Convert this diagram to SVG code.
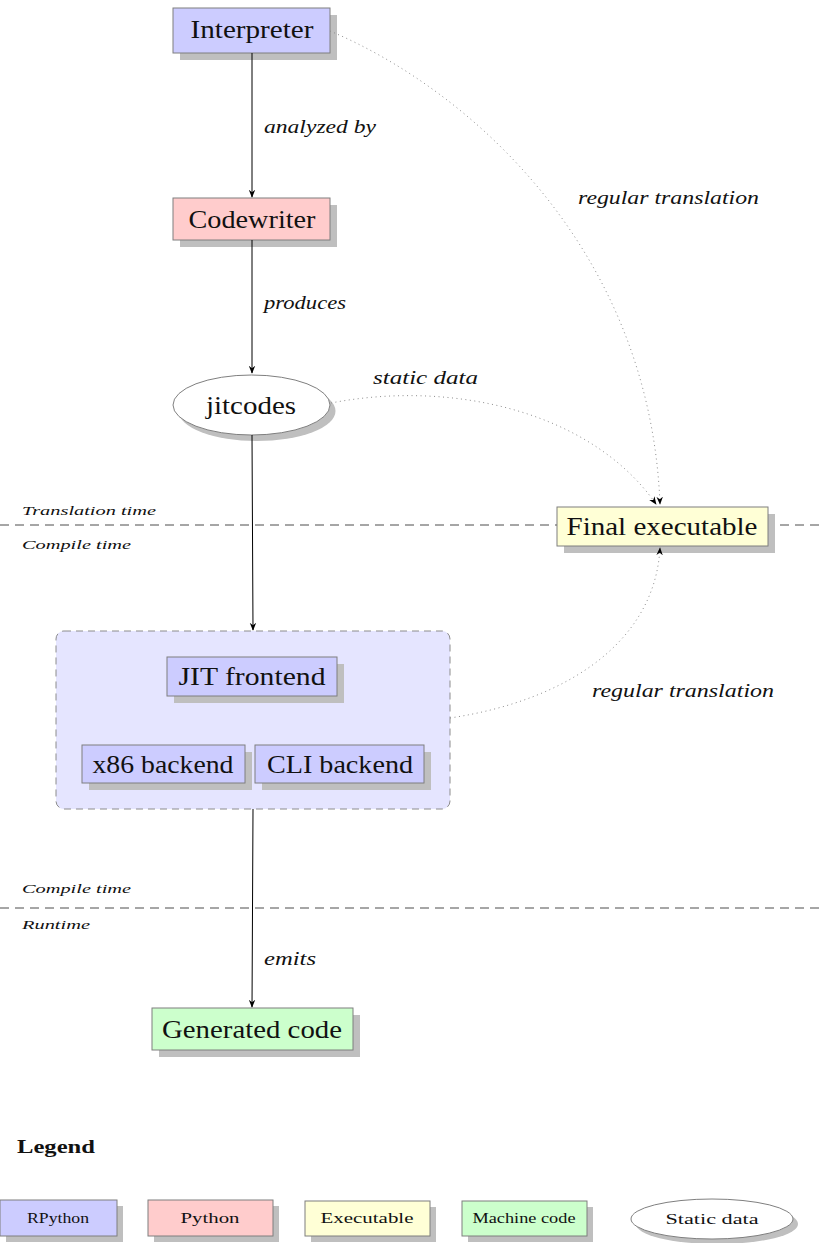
<svg xmlns="http://www.w3.org/2000/svg" width="821" height="1243" viewBox="0 0 821 1243">
  <style>
    .node { stroke: #7f7f7f; stroke-width: 1; }
    .shadow { fill: #bfbfbf; stroke: none; }
    .rpython { fill: #ccccff; }
    .python { fill: #ffcccc; }
    .exec { fill: #ffffd6; }
    .machine { fill: #ccffcc; }
    .static { fill: #ffffff; }
    .lbl { font-family: "Liberation Serif", "DejaVu Serif", serif; font-size: 25px; fill: #111; text-anchor: middle; }
    .edge { font-family: "Liberation Serif", "DejaVu Serif", serif; font-style: italic; font-size: 18px; fill: #111; }
    .phase { font-family: "Liberation Serif", "DejaVu Serif", serif; font-style: italic; font-size: 13px; fill: #111; }
    .leg { font-family: "Liberation Serif", "DejaVu Serif", serif; font-size: 14.5px; fill: #111; text-anchor: middle; }
    .solid { fill: none; stroke: #000; stroke-width: 1; }
    .dotted { fill: none; stroke: #8c8c8c; stroke-width: 1; stroke-dasharray: 1 3.5; }
    .sep { fill: none; stroke: #4d4d4d; stroke-width: 1; stroke-dasharray: 9 6; }
  </style>
  <defs>
    <marker id="arrow" viewBox="0 0 10 10" refX="9" refY="5" markerWidth="8" markerHeight="8" markerUnits="userSpaceOnUse" orient="auto">
      <path d="M0,1 L10,5 L0,9 L3,5 Z" fill="#000"/>
    </marker>
  </defs>

  <!-- phase separators -->
  <g id="separators">
    <line class="sep" x1="0" y1="525" x2="821" y2="525"/>
    <line class="sep" x1="0" y1="908" x2="821" y2="908"/>
    <text class="phase" x="22" y="515" textLength="134" lengthAdjust="spacingAndGlyphs">Translation time</text>
    <text class="phase" x="22" y="549" textLength="109" lengthAdjust="spacingAndGlyphs">Compile time</text>
    <text class="phase" x="22" y="893" textLength="109" lengthAdjust="spacingAndGlyphs">Compile time</text>
    <text class="phase" x="22" y="929" textLength="68" lengthAdjust="spacingAndGlyphs">Runtime</text>
  </g>

  <!-- JIT group container -->
  <g id="jit-group">
    <rect x="56" y="631" width="394" height="178" rx="8" ry="8" fill="#e5e5ff" stroke="#8c8c8c" stroke-width="1" stroke-dasharray="7 5"/>
  </g>

  <!-- nodes -->
  <g id="interpreter">
    <rect class="shadow" x="180" y="15" width="157" height="45"/>
    <rect class="node rpython" x="173" y="8" width="157" height="45"/>
    <text class="lbl" x="252" y="38" textLength="123" lengthAdjust="spacingAndGlyphs">Interpreter</text>
  </g>
  <g id="codewriter">
    <rect class="shadow" x="180" y="205" width="157" height="42"/>
    <rect class="node python" x="173" y="198" width="157" height="42"/>
    <text class="lbl" x="252" y="228" textLength="127" lengthAdjust="spacingAndGlyphs">Codewriter</text>
  </g>
  <g id="jitcodes">
    <ellipse class="shadow" cx="257" cy="411" rx="78.5" ry="30"/>
    <ellipse class="node static" cx="251.5" cy="405" rx="78.5" ry="30"/>
    <text class="lbl" x="251" y="414" textLength="90" lengthAdjust="spacingAndGlyphs">jitcodes</text>
  </g>
  <g id="final-executable">
    <rect class="shadow" x="564" y="514" width="211" height="39"/>
    <rect class="node exec" x="557" y="507" width="211" height="39"/>
    <text class="lbl" x="662" y="535" textLength="191" lengthAdjust="spacingAndGlyphs">Final executable</text>
  </g>
  <g id="jit-frontend">
    <rect class="shadow" x="174" y="664" width="170" height="39"/>
    <rect class="node rpython" x="167" y="657" width="170" height="39"/>
    <text class="lbl" x="252" y="685" textLength="147" lengthAdjust="spacingAndGlyphs">JIT frontend</text>
  </g>
  <g id="x86-backend">
    <rect class="shadow" x="89" y="752" width="163" height="38"/>
    <rect class="node rpython" x="82" y="745" width="163" height="38"/>
    <text class="lbl" x="163" y="773" textLength="141" lengthAdjust="spacingAndGlyphs">x86 backend</text>
  </g>
  <g id="cli-backend">
    <rect class="shadow" x="262" y="752" width="169" height="38"/>
    <rect class="node rpython" x="255" y="745" width="169" height="38"/>
    <text class="lbl" x="340" y="773" textLength="146" lengthAdjust="spacingAndGlyphs">CLI backend</text>
  </g>
  <g id="generated-code">
    <rect class="shadow" x="159" y="1015" width="201" height="42"/>
    <rect class="node machine" x="152" y="1008" width="201" height="42"/>
    <text class="lbl" x="252" y="1038" textLength="180" lengthAdjust="spacingAndGlyphs">Generated code</text>
  </g>

  <!-- connectors, drawn above the node shadows -->
  <g id="connectors">
    <line class="solid" x1="252" y1="53" x2="252" y2="197" marker-end="url(#arrow)"/>
    <line class="solid" x1="252" y1="240" x2="252" y2="373" marker-end="url(#arrow)"/>
    <line class="solid" x1="252" y1="435" x2="253" y2="630" marker-end="url(#arrow)"/>
    <line class="solid" x1="253" y1="809" x2="252" y2="1007" marker-end="url(#arrow)"/>
    <path class="dotted" d="M330,31 C470,90 650,250 660,504" marker-end="url(#arrow)"/>
    <path class="dotted" d="M331,403 C450,380 590,410 656,504" marker-end="url(#arrow)"/>
    <path class="dotted" d="M450,718 C570,700 655,640 660,548" marker-end="url(#arrow)"/>
    <text class="edge" x="264" y="133" textLength="112" lengthAdjust="spacingAndGlyphs">analyzed by</text>
    <text class="edge" x="264" y="309" textLength="82" lengthAdjust="spacingAndGlyphs">produces</text>
    <text class="edge" x="373" y="384" textLength="105" lengthAdjust="spacingAndGlyphs">static data</text>
    <text class="edge" x="578" y="204" textLength="181" lengthAdjust="spacingAndGlyphs">regular translation</text>
    <text class="edge" x="592" y="697" textLength="182" lengthAdjust="spacingAndGlyphs">regular translation</text>
    <text class="edge" x="264" y="965" textLength="52" lengthAdjust="spacingAndGlyphs">emits</text>
  </g>

  <!-- legend -->
  <g id="legend">
    <text x="17" y="1153" font-family="Liberation Serif, DejaVu Serif, serif" font-weight="bold" font-size="19" fill="#111" textLength="78" lengthAdjust="spacingAndGlyphs">Legend</text>
    <g id="legend-rpython">
      <rect class="shadow" x="6" y="1206" width="117" height="36"/>
      <rect class="node rpython" x="0" y="1200" width="117" height="36"/>
      <text class="leg" x="58" y="1223" textLength="62" lengthAdjust="spacingAndGlyphs">RPython</text>
    </g>
    <g id="legend-python">
      <rect class="shadow" x="154" y="1206" width="125" height="36"/>
      <rect class="node python" x="148" y="1200" width="125" height="36"/>
      <text class="leg" x="210" y="1223" textLength="59" lengthAdjust="spacingAndGlyphs">Python</text>
    </g>
    <g id="legend-executable">
      <rect class="shadow" x="311" y="1207" width="125" height="35"/>
      <rect class="node exec" x="305" y="1201" width="125" height="35"/>
      <text class="leg" x="367" y="1223" textLength="93" lengthAdjust="spacingAndGlyphs">Executable</text>
    </g>
    <g id="legend-machine">
      <rect class="shadow" x="468" y="1207" width="125" height="35"/>
      <rect class="node machine" x="462" y="1201" width="125" height="35"/>
      <text class="leg" x="524" y="1223" textLength="103" lengthAdjust="spacingAndGlyphs">Machine code</text>
    </g>
    <g id="legend-static">
      <ellipse class="shadow" cx="717" cy="1224" rx="81" ry="20"/>
      <ellipse class="node static" cx="712" cy="1219" rx="81" ry="20"/>
      <text class="leg" x="712" y="1224" textLength="93" lengthAdjust="spacingAndGlyphs">Static data</text>
    </g>
  </g>
</svg>
